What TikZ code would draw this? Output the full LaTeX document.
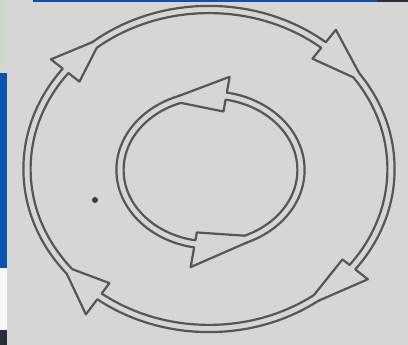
\documentclass[tikz,border=0pt]{standalone}
\usepackage{xcolor}
\usepackage{tikz}
\usetikzlibrary{calc}

\definecolor{paper}{HTML}{D6D6D6}
\definecolor{ink}{HTML}{565656}
\definecolor{screenblue}{HTML}{0A52B0}
\definecolor{screendark}{HTML}{2A2E36}
\definecolor{screenlight}{HTML}{CFD5CF}

\newcommand{\bandgap}{3.6}
% flared head on a double ring: cx, cy, x radius, y radius, base angle, tip angle, outer barb, inner barb
\newcommand{\flarearrow}[8]{%
  \fill[paper] ({#1+(#3+\bandgap)*cos(#5)},{#2+(#4+\bandgap)*sin(#5)})
    -- ({#1+(#3+\bandgap+#7)*cos(#5)},{#2+(#4+\bandgap+#7)*sin(#5)})
    -- ({#1+(#3+\bandgap)*cos(#6)},{#2+(#4+\bandgap)*sin(#6)})
    -- ({#1+(#3-\bandgap)*cos(#6)},{#2+(#4-\bandgap)*sin(#6)})
    -- ({#1+(#3-\bandgap-#8)*cos(#5)},{#2+(#4-\bandgap-#8)*sin(#5)})
    -- ({#1+(#3-\bandgap)*cos(#5)},{#2+(#4-\bandgap)*sin(#5)}) -- cycle;
  \draw[ringline] ({#1+(#3+\bandgap)*cos(#5)},{#2+(#4+\bandgap)*sin(#5)})
    -- ({#1+(#3+\bandgap+#7)*cos(#5)},{#2+(#4+\bandgap+#7)*sin(#5)})
    -- ({#1+(#3+\bandgap)*cos(#6)},{#2+(#4+\bandgap)*sin(#6)});
  \draw[ringline] ({#1+(#3-\bandgap)*cos(#5)},{#2+(#4-\bandgap)*sin(#5)})
    -- ({#1+(#3-\bandgap-#8)*cos(#5)},{#2+(#4-\bandgap-#8)*sin(#5)})
    -- ({#1+(#3-\bandgap)*cos(#6)},{#2+(#4-\bandgap)*sin(#6)});
}

\begin{document}
\begin{tikzpicture}[
        x=1pt, y=1pt,
        ringline/.style={draw=ink, line width=2.2pt, line cap=round, line join=round},
        strip/.style={draw=none}
    ]
    \useasboundingbox (0,0) rectangle (408,345);
    \fill[paper] (0,0) rectangle (408,345);
    % screen edges round the photo
    \fill[strip, screenlight] (0,345) rectangle (7,277);
    \fill[strip, screenblue] (0,272) rectangle (7,77);
    \fill[strip, white!95!gray] (0,77) rectangle (7,15);
    \fill[strip, screendark] (0,15) rectangle (7,0);
    \fill[strip, screenblue] (33,345) rectangle (377,342.5);
    \fill[strip, screendark] (377,345) rectangle (408,342.5);

    % outer ring
    \draw[ringline] (209,176) ellipse[x radius=185.6, y radius=163.1];
    \draw[ringline] (209,176) ellipse[x radius=178.4, y radius=155.9];
    % inner ring
    \draw[ringline] (210.5,175) ellipse[x radius=94.1, y radius=78.6];
    \draw[ringline] (210.5,175) ellipse[x radius=86.9, y radius=71.4];

    % heads on the outer ring, clockwise
    \flarearrow{209}{176}{182}{159.5}{142}{129}{15}{14}
    \flarearrow{209}{176}{182}{159.5}{51}{36}{16}{14}
    \flarearrow{209}{176}{182}{159.5}{-38}{-54}{16}{9}
    \flarearrow{209}{176}{182}{159.5}{233}{220}{19}{13}
    % heads on the inner ring, anticlockwise
    \flarearrow{210.5}{175}{90.5}{75}{80}{110}{16}{12}
    \flarearrow{210.5}{175}{90.5}{75}{260}{293}{20}{8}

    % speck on the paper
    \fill[ink!70!black] (95,145) circle (3);
\end{tikzpicture}
\end{document}
